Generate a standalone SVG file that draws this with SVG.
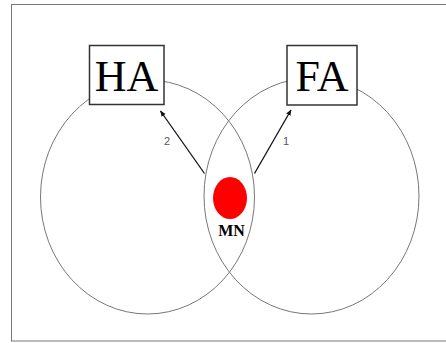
<svg xmlns="http://www.w3.org/2000/svg" width="446" height="343" viewBox="0 0 446 343">
<defs>
<style>
.ring{fill:none;stroke:#777;stroke-width:1}
.box{fill:#fff;stroke:#333;stroke-width:1.5}
.big{font-family:"Liberation Serif",serif;font-size:44px;fill:#000;text-anchor:middle}
.num{font-family:"Liberation Sans",sans-serif;font-size:11px;fill:#555;text-anchor:middle}
.arr{stroke:#111;stroke-width:1.3;fill:none;marker-end:url(#ah)}
</style>
<marker id="ah" viewBox="0 0 10 10" refX="9" refY="5" markerWidth="6" markerHeight="6" orient="auto" markerUnits="userSpaceOnUse">
<path d="M0,1 L10,5 L0,9 z" fill="#111"/>
</marker>
</defs>
<rect width="446" height="343" fill="#fff"/>
<rect x="11.5" y="4.5" width="440" height="336.5" fill="none" stroke="#777" stroke-width="1"/>
<g id="home-network"><ellipse class="ring" cx="147.5" cy="197" rx="107" ry="117"/></g>
<g id="foreign-network"><ellipse class="ring" cx="311.5" cy="196" rx="107.5" ry="118"/></g>
<g id="connectors">
<line class="arr" x1="204.5" y1="173.5" x2="160.5" y2="111"/>
<line class="arr" x1="254.5" y1="173.5" x2="291" y2="110"/>
<text class="num" x="167" y="145">2</text>
<text class="num" x="286" y="145">1</text>
</g>
<g id="HA">
<rect class="box" x="89.5" y="45.5" width="74.5" height="59"/>
<text class="big" x="126.5" y="91">HA</text>
</g>
<g id="FA">
<rect class="box" x="287" y="45.5" width="70" height="59.5"/>
<text class="big" x="322" y="91">FA</text>
</g>
<g id="MN">
<ellipse cx="230" cy="198" rx="17" ry="21" fill="#ff0000"/>
<text x="231.5" y="236" font-family="Liberation Serif,serif" font-weight="bold" font-size="16" text-anchor="middle" fill="#000">MN</text>
</g>
</svg>
